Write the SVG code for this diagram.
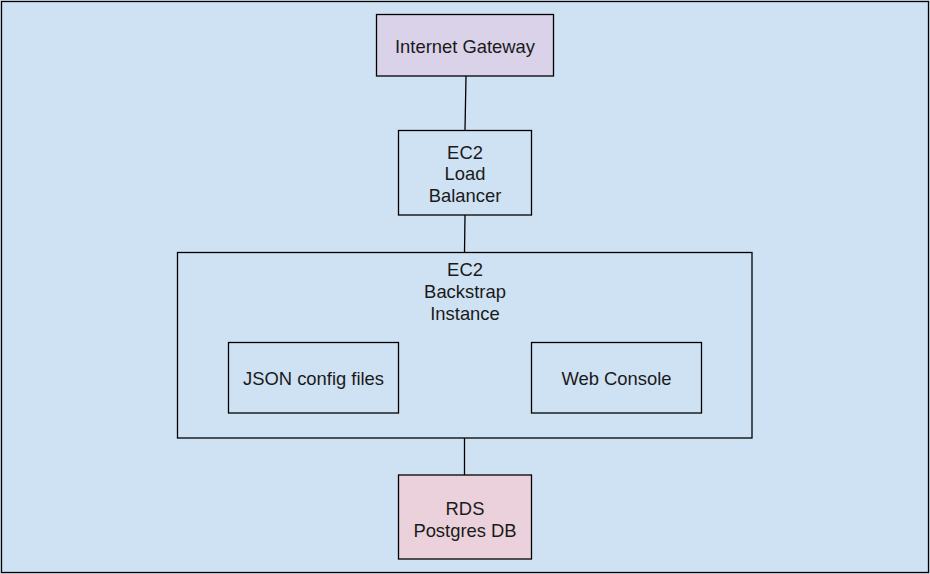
<svg xmlns="http://www.w3.org/2000/svg" width="930" height="574" viewBox="0 0 930 574">
<style>
.box{stroke:#000;stroke-width:1.3;fill:none}
.t{font-family:"Liberation Sans",Arial,sans-serif;font-size:18.4px;fill:#1a1a1a;text-anchor:middle}
.c{stroke:#000;stroke-width:1.3;fill:none}
</style>
<rect x="0" y="0" width="930" height="574" fill="#cfe2f3"/>
<rect x="1.5" y="1.5" width="927" height="571" class="box"/>
<g id="connectors">
<line x1="466" y1="76" x2="465" y2="130" class="c"/>
<line x1="465" y1="215" x2="464.5" y2="253" class="c"/>
<line x1="464.5" y1="438" x2="464.5" y2="475" class="c"/>
</g>
<g id="gateway">
<rect x="376.5" y="14.5" width="177" height="61.5" class="box" style="fill:#d9d2e9"/>
<text x="465" y="52.5" class="t">Internet Gateway</text>
</g>
<g id="loadbalancer">
<rect x="398.5" y="130.5" width="133" height="84.5" class="box"/>
<text x="465" y="158.5" class="t">EC2</text>
<text x="465" y="180.3" class="t">Load</text>
<text x="465" y="202" class="t">Balancer</text>
</g>
<g id="instance">
<rect x="177.5" y="252.5" width="574.5" height="185.5" class="box"/>
<text x="465" y="275.7" class="t">EC2</text>
<text x="465" y="298" class="t">Backstrap</text>
<text x="465" y="319.5" class="t">Instance</text>
</g>
<g id="json">
<rect x="228.5" y="342.5" width="170" height="70.5" class="box"/>
<text x="313.5" y="385" class="t">JSON config files</text>
</g>
<g id="webconsole">
<rect x="531.5" y="342.5" width="170" height="70.5" class="box"/>
<text x="616.5" y="385" class="t">Web Console</text>
</g>
<g id="rds">
<rect x="398.5" y="475" width="133" height="84" class="box" style="fill:#ead1dc"/>
<text x="465" y="514.5" class="t">RDS</text>
<text x="465" y="536.5" class="t">Postgres DB</text>
</g>
</svg>
